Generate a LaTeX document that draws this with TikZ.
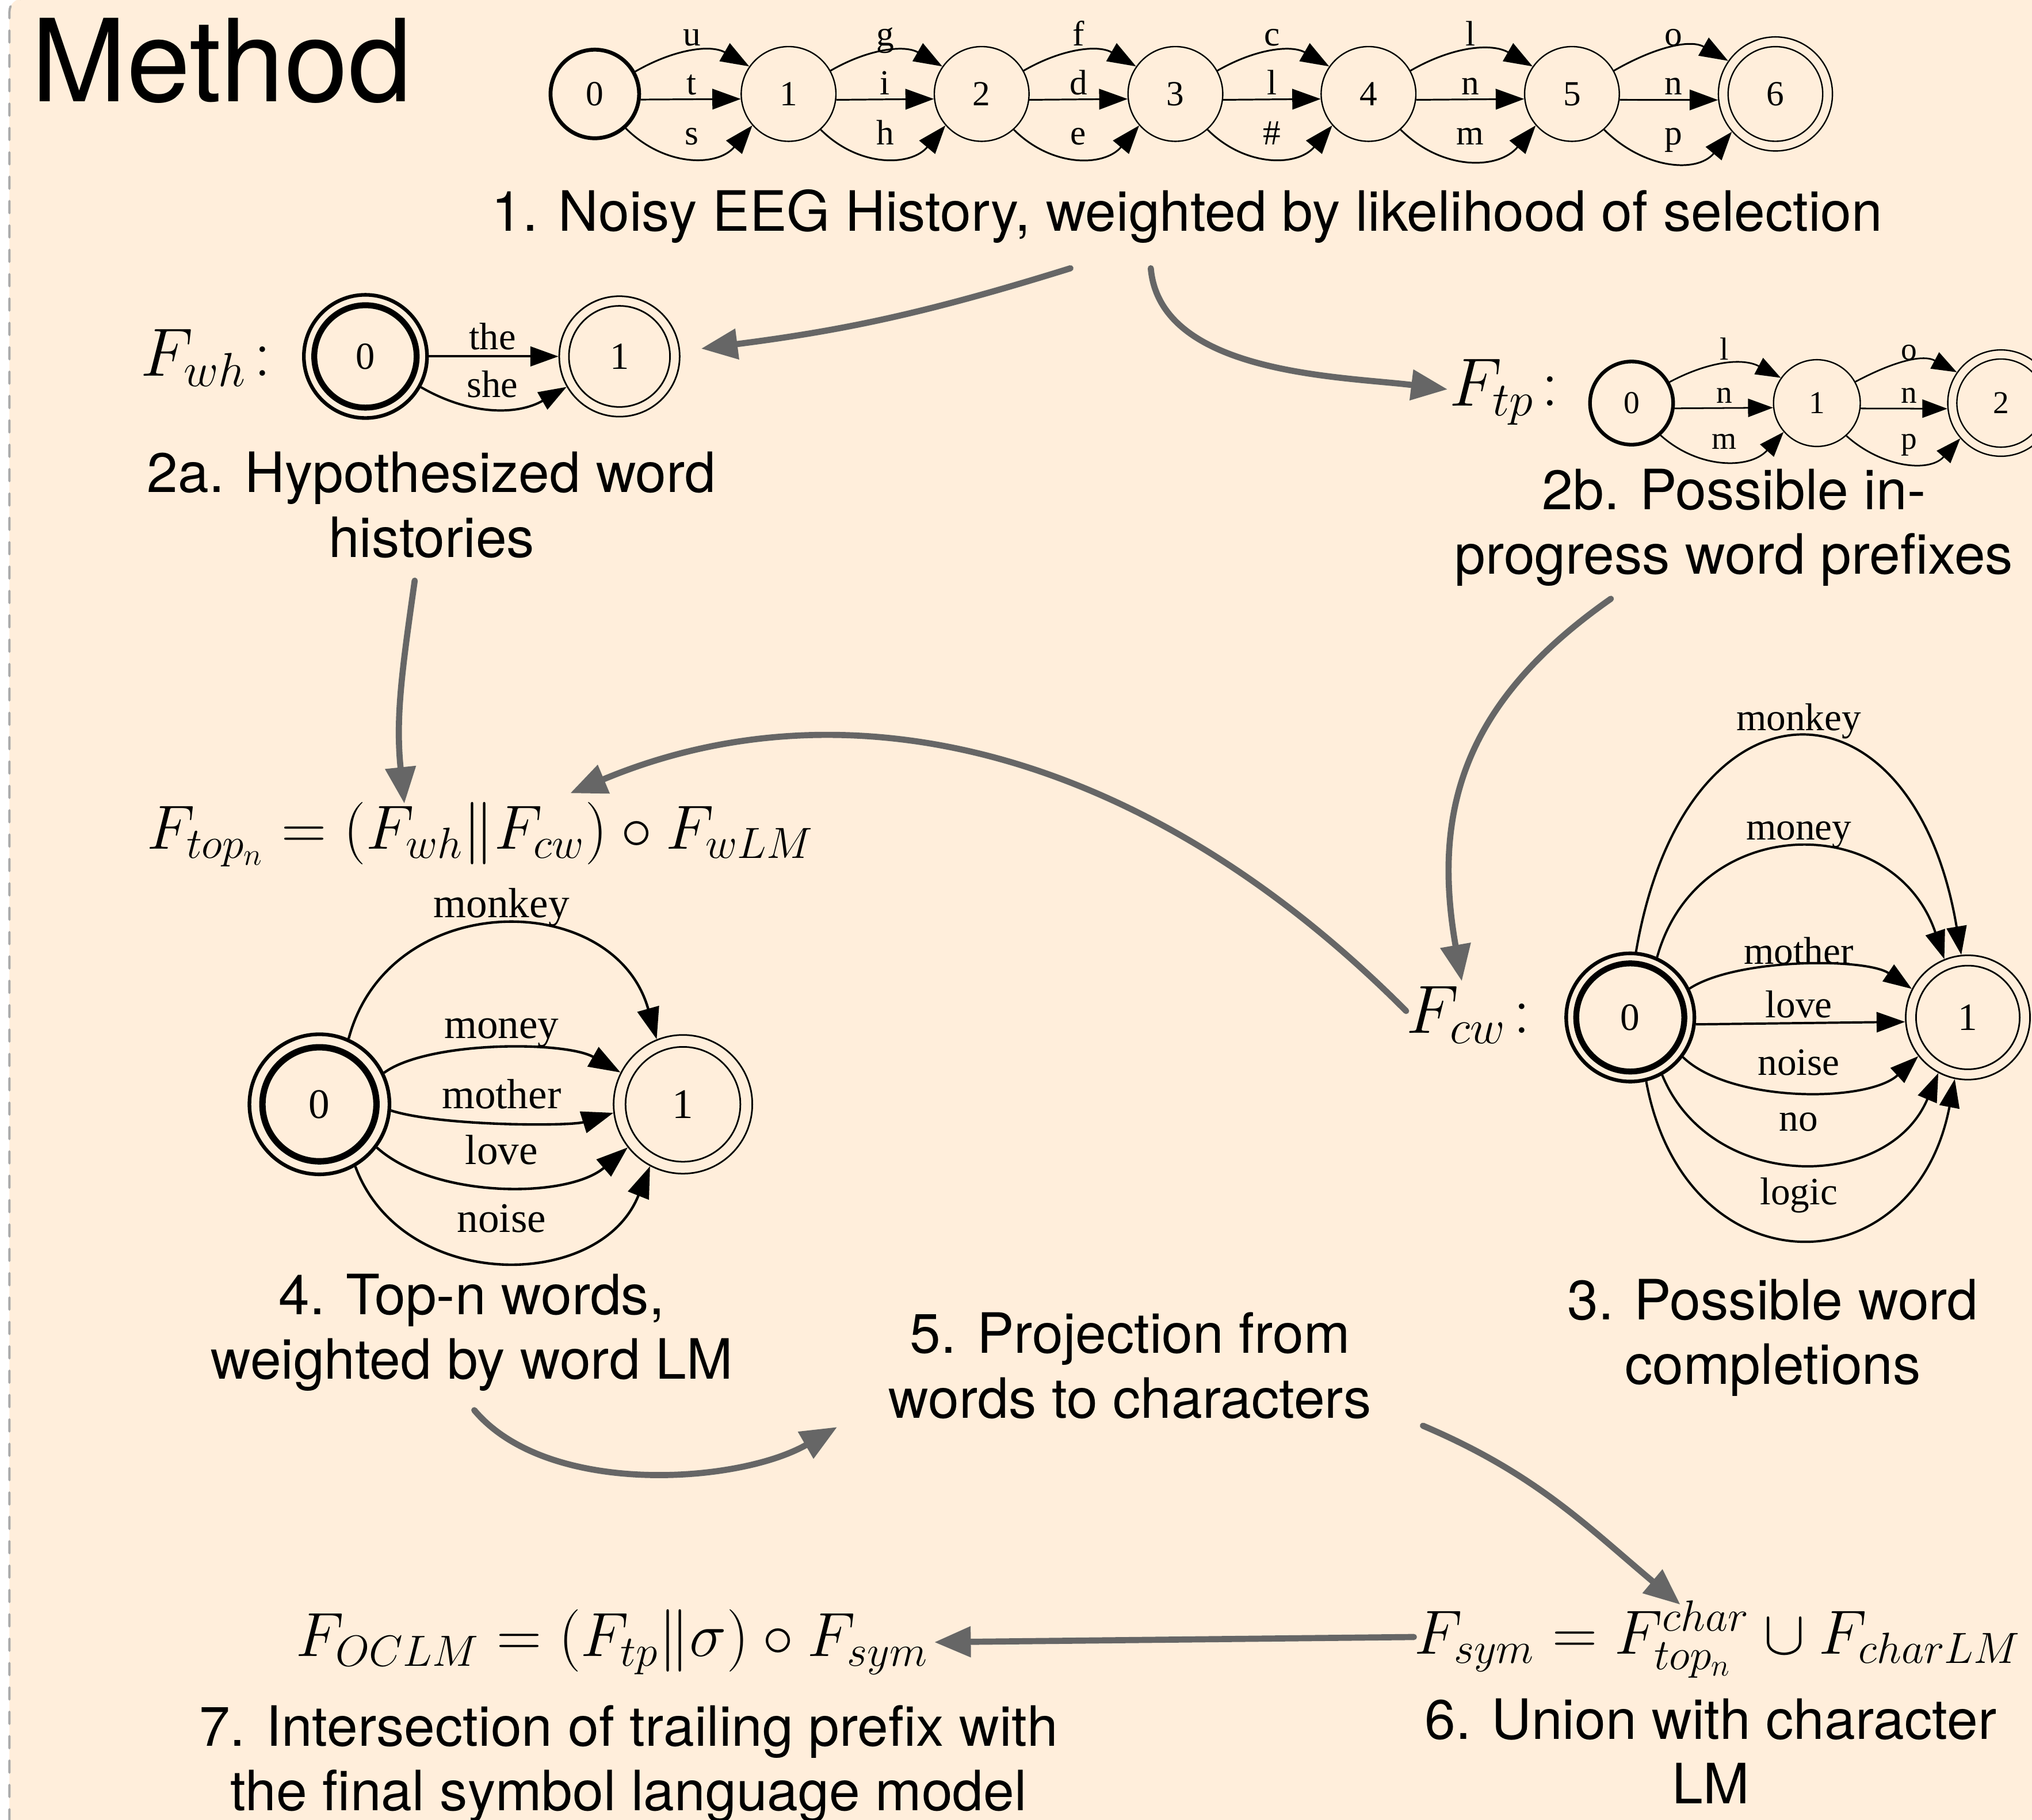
\RequirePackage{fix-cm}
\documentclass[tikz,border=0pt]{standalone}
\usepackage[no-math]{fontspec}
\setmainfont{TeX Gyre Heros}
\newfontfamily\gv{Liberation Serif}
\usetikzlibrary{arrows.meta}
\definecolor{bgc}{RGB}{255,238,219}
\definecolor{arrc}{RGB}{102,102,102}
\definecolor{dashc}{RGB}{170,170,170}
\begin{document}
\begin{tikzpicture}[x=0.02cm,y=0.02cm,
  captxt/.style={font=\fontsize{24.4}{28.45}\selectfont, align=center, anchor=base, inner sep=0pt},
  mth/.style={font=\fontsize{27.4}{30}\selectfont, inner sep=0pt, anchor=base west},
  fnm/.style={font=\fontsize{30}{32}\selectfont, inner sep=0pt, anchor=base west},
  flow/.style={draw=arrc, line width=2.7pt, line cap=round, -{Triangle[length=16pt,width=13pt]}},
  % top chain
  cs/.style={circle, draw, inner sep=0pt, minimum size=41.6pt, line width=0.6pt, font=\gv\fontsize{15.5}{15.5}\selectfont},
  ce/.style={line width=0.75pt, -{Triangle[length=12.5pt,width=9pt]}},
  cl/.style={inner sep=0pt, anchor=base, font=\gv\fontsize{15.5}{15.5}\selectfont},
  % tp chain
  ps/.style={circle, draw, inner sep=0pt, minimum size=38.1pt, line width=0.6pt, font=\gv\fontsize{14}{14}\selectfont},
  pe/.style={line width=0.7pt, -{Triangle[length=11pt,width=8pt]}},
  pl/.style={inner sep=0pt, anchor=base, font=\gv\fontsize{14}{14}\selectfont},
  % wh
  ws/.style={circle, draw, inner sep=0pt, line width=0.7pt, font=\gv\fontsize{16.8}{16.8}\selectfont},
  we/.style={line width=1pt, -{Triangle[length=12.3pt,width=8.6pt]}},
  wl/.style={inner sep=0pt, anchor=base, font=\gv\fontsize{16.8}{16.8}\selectfont},
  % cw
  ks/.style={circle, draw, inner sep=0pt, line width=0.7pt, font=\gv\fontsize{17}{17}\selectfont},
  ke/.style={line width=1pt, -{Triangle[length=12.5pt,width=8.8pt]}},
  kl/.style={inner sep=0pt, font=\gv\fontsize{17}{17}\selectfont},
  % top-n
  ns/.style={circle, draw, inner sep=0pt, line width=0.7pt, font=\gv\fontsize{18.5}{18.5}\selectfont},
  ne/.style={line width=1.1pt, -{Triangle[length=13.9pt,width=9.7pt]}},
  nl/.style={inner sep=0pt, font=\gv\fontsize{18.5}{18.5}\selectfont},
]
\useasboundingbox (0,0) rectangle (1568,1404);
\clip (0,0) rectangle (1568,1404);
\fill[white] (0,0) rectangle (1568,1404);
\draw[dashc, line width=1pt, dash pattern=on 5.3pt off 5.4pt, line cap=round, fill=bgc, rounded corners=5.7pt] (7.3,-30) rectangle (1650,1405);

\node[inner sep=0pt, anchor=base west, font=\fontsize{50.3}{52}\selectfont] (title) at (24,1325.5) {Method};

% ---------- 1. noisy EEG chain ----------
\node[cs, minimum size=38.9pt, line width=1.7pt] (t0) at (459,1331.5) {0};
\node[cs] (t1) at (608.5,1331.5) {1};
\node[cs] (t2) at (757.5,1331.5) {2};
\node[cs] (t3) at (907,1331.5) {3};
\node[cs] (t4) at (1056,1331.5) {4};
\node[cs] (t5) at (1213,1331.5) {5};
\node[cs, minimum size=50.1pt] (t6) at (1370,1331.5) {6};
\draw[line width=0.6pt] (t6.center) circle (36.5);
\foreach \a/\b/\m/\p/\q/\r in {t0/t1/533.8/u/t/s, t1/t2/683/g/i/h, t2/t3/832.2/f/d/e, t3/t4/981.5/c/l/\#, t4/t5/1134.5/l/n/m, t5/t6/1291.5/o/n/p}{
  \draw[ce] (\a.29) to[out=30,in=150] (\b.145);
  \draw[ce] (\a.-7) -- (\b.-174);
  \draw[ce] (\a.-48) to[out=-45,in=-130,looseness=1.1] (\b.-139);
  \node[cl] at (\m,1368.5) {\p};
  \node[cl] at (\m,1331) {\q};
  \node[cl] at (\m,1292.5) {\r};
}
\node[captxt] (c1) at (916,1225.7) {1. Noisy EEG History, weighted by likelihood of selection};

% ---------- 2a. F_wh ----------
\node[fnm] (fwh) at (108,1114) {$F_{wh}\mkern2mu{:}$};
\node[ws, minimum size=54.1pt, line width=1.6pt] (w0) at (282,1129) {0};
\draw[line width=2.6pt] (w0.center) circle (39.5);
\node[ws, minimum size=52.9pt] (w1) at (478,1129) {1};
\draw[line width=0.7pt] (w1.center) circle (39);
\draw[we] (w0.east) -- (w1.west);
\draw[we] (w0.-29) to[out=-30,in=-150] (w1.-150);
\node[wl] at (380,1134.3) {the};
\node[wl] at (380,1097.5) {she};
\node[captxt] (c2a) at (333,974) {2a. Hypothesized word\\histories};

% ---------- 2b. F_tp ----------
\node[fnm] (ftp) at (1118,1091) {$F_{tp}\mkern2mu{:}$};
\node[ps, minimum size=36.5pt, line width=1.6pt] (p0) at (1259,1093) {0};
\node[ps] (p1) at (1402,1093) {1};
\node[ps, minimum size=46.7pt] (p2) at (1544,1093) {2};
\draw[line width=0.6pt] (p2.center) circle (34);
\foreach \a/\b/\m/\p/\q/\r in {p0/p1/1330.5/l/n/m, p1/p2/1473/o/n/p}{
  \draw[pe] (\a.29) to[out=28,in=152] (\b.145);
  \draw[pe] (\a.-7) -- (\b.-174);
  \draw[pe] (\a.-48) to[out=-42,in=-132,looseness=1.05] (\b.-139);
  \node[pl] at (\m,1126.5) {\p};
  \node[pl] at (\m,1093.2) {\q};
  \node[pl] at (\m,1057.7) {\r};
}
\node[captxt] (c2b) at (1338,961) {2b. Possible in-\\progress word prefixes};

% ---------- 3. F_cw ----------
\node[fnm] (fcw) at (1085,607) {$F_{cw}\mkern2mu{:}$};
\node[ks, minimum size=56.3pt, line width=1.6pt] (k0) at (1258,619) {0};
\draw[line width=2.6pt] (k0.center) circle (41.7);
\node[ks, minimum size=54.6pt] (k1) at (1518.5,619) {1};
\draw[line width=0.7pt] (k1.center) circle (40);
\draw[ke] (k0.85) .. controls (1300,890) and (1476,890) .. (k1.96);
\draw[ke] (k0.66) .. controls (1310,778) and (1462,778) .. (k1.112);
\draw[ke] (k0.26) .. controls (1340,665) and (1440,665) .. (k1.153);
\draw[ke] (k0.-6) -- (k1.184);
\draw[ke] (k0.-37) .. controls (1335,553) and (1441,553) .. (k1.-142);
\draw[ke] (k0.-61) .. controls (1320,484) and (1457,484) .. (k1.-118);
\draw[ke] (k0.-76) .. controls (1300,408) and (1477,408) .. (k1.-102);
\node[kl] at (1388,847.4) {monkey};
\node[kl] at (1388,760) {money};
\node[kl] at (1388,670.6) {mother};
\node[kl] at (1388,629) {love};
\node[kl] at (1388,584.2) {noise};
\node[kl] at (1388,538.3) {no};
\node[kl] at (1388,481.6) {logic};
\node[captxt] (c3) at (1368,336) {3. Possible word\\completions};

% ---------- 4. top-n ----------
\node[mth] (ftop) at (113,749) {$F_{top_n} = (F_{wh}\|F_{cw}) \circ F_{wLM}$};
\node[ns, minimum size=61.5pt, line width=1.6pt] (n0) at (246.5,552) {0};
\draw[line width=2.8pt] (n0.center) circle (44);
\node[ns, minimum size=60.9pt] (n1) at (527,552) {1};
\draw[line width=0.7pt] (n1.center) circle (44.3);
\draw[ne] (n0.66) .. controls (300,719) and (474,719) .. (n1.112);
\draw[ne] (n0.26) .. controls (330,601) and (436,601) .. (n1.153);
\draw[ne] (n0.-5) .. controls (340,535) and (440,535) .. (n1.187);
\draw[ne] (n0.-37) .. controls (335,479) and (438,479) .. (n1.-142);
\draw[ne] (n0.-60) .. controls (310,407) and (463,407) .. (n1.-118);
\node[nl] at (387,704) {monkey};
\node[nl] at (387,607) {money};
\node[nl] at (387,560) {mother};
\node[nl] at (387,517) {love};
\node[nl] at (387,464) {noise};
\node[captxt] (c4) at (364,340) {4. Top-n words,\\weighted by word LM};

% ---------- 5, 6, 7 ----------
\node[captxt] (c5) at (872,310) {5. Projection from\\words to characters};
\node[mth] (fsym) at (1091,128) {$F_{sym} = F^{char}_{top_n} \cup F_{charLM}$};
\node[captxt] (c6) at (1320,12.4) {6. Union with character\\LM};
\node[mth] (focl) at (228,126) {$F_{OCLM} = (F_{tp}\|\sigma) \circ F_{sym}$};
\node[captxt] (c7) at (485,7) {7. Intersection of trailing prefix with\\the final symbol language model};

% ---------- flow arrows ----------
\coordinate (a1s) at (826,1197); \coordinate (a1e) at (541,1135);
\coordinate (a2s) at (888,1197); \coordinate (a2e) at (1117,1103.6);
\coordinate (a3s) at (320,956);  \coordinate (a3e) at (312,784);
\coordinate (a4s) at (1085,624); \coordinate (a4e) at (440,792);
\coordinate (a5s) at (1243,942); \coordinate (a5e) at (1128,647);
\coordinate (a6s) at (366,316);  \coordinate (a6e) at (646,303);
\coordinate (a7s) at (1098,304); \coordinate (a7e) at (1296.6,166);
\coordinate (a8s) at (1091,141); \coordinate (a8e) at (721,137);
\draw[flow] (a1s) to[bend left=5] (a1e);
\draw[flow] (a2s) to[out=-85,in=173,looseness=0.85] (a2e);
\draw[flow] (a3s) to[out=-98,in=96] (a3e);
\draw[flow] (a4s) .. controls (880,830) and (650,880) .. (a4e);
\draw[flow] (a5s) to[out=-145,in=100,looseness=1.1] (a5e);
\draw[flow] (a6s) to[out=-50,in=-150,looseness=0.8] (a6e);
\draw[flow] (a7s) to[out=-23,in=140] (a7e);
\draw[flow] (a8s) -- (a8e);
\end{tikzpicture}
\end{document}
